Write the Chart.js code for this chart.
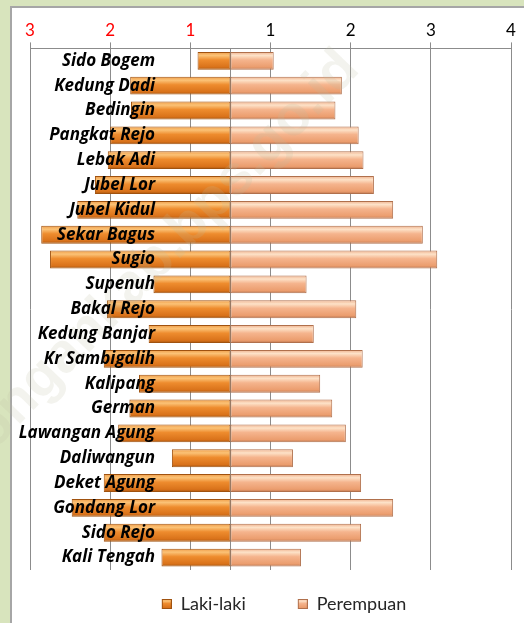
<!DOCTYPE html>
<html>
<head>
<meta charset="utf-8">
<script src="https://cdn.jsdelivr.net/npm/chart.js@4.4.1/dist/chart.umd.min.js"></script>
<style>
  html, body { margin: 0; padding: 0; }
  body { width: 524px; height: 623px; background: #d8e4bd; overflow: hidden; position: relative; }
  #panel { position: absolute; left: 10px; top: 6px; width: 540px; height: 640px; background: #fff; border: 2px solid #a6a6a6; }
  #wrap { position: absolute; left: 0; top: 0; width: 524px; height: 623px; }
</style>
</head>
<body>
<div id="panel"></div>
<div id="wrap"><canvas id="myChart"></canvas></div>
<script>
const desa = ["Sido Bogem", "Kedung Dadi", "Bedingin", "Pangkat Rejo", "Lebak Adi", "Jubel Lor",
    "Jubel Kidul", "Sekar Bagus", "Sugio", "Supenuh", "Bakal Rejo", "Kedung Banjar", "Kr Sambigalih",
    "Kalipang", "German", "Lawangan Agung", "Daliwangun", "Deket Agung", "Gondang Lor", "Sido Rejo",
    "Kali Tengah"];
const lakiLaki = [0.41, 1.25, 1.24, 1.50, 1.53, 1.69, 1.91, 2.36, 2.25, 0.96, 1.54,
    1.02, 1.58, 1.14, 1.26, 1.40, 0.73, 1.58, 1.98, 1.58, 0.86];
const perempuan = [0.54, 1.39, 1.31, 1.60, 1.66, 1.79, 2.03, 2.40, 2.58, 0.95, 1.57,
    1.04, 1.65, 1.12, 1.27, 1.44, 0.78, 1.63, 2.03, 1.63, 0.88];
const seriesNames = ["Laki-laki", "Perempuan"];
const axisMin = -2.5;
const axisMax = 3.5;

const BAR_PCT = 0.72;
const lakiStops = [[0, "#ef9c48"], [0.2, "#fbc276"], [0.45, "#ee8c2e"], [0.85, "#d9721a"], [1, "#a8560f"]];
const perempuanStops = [[0, "#efb08c"], [0.2, "#fde2c8"], [0.45, "#f5b48d"], [0.85, "#eb9d6e"], [1, "#bb7650"]];

// vertical gradient per bar, so each bar gets the 3D bevel look
function barFill(stops) {
    return (ctx) => {
        const chart = ctx.chart;
        const yScale = chart.scales.y;
        if (!chart.chartArea || !yScale || ctx.dataIndex === undefined) return stops[2][1];
        const center = yScale.getPixelForValue(ctx.dataIndex);
        const h = (yScale.height / desa.length) * BAR_PCT;
        const g = chart.ctx.createLinearGradient(0, center - h / 2, 0, center + h / 2);
        stops.forEach(([o, c]) => g.addColorStop(o, c));
        return g;
    };
}

// legend markers as small images (blank space on the left gives the item gap)
const MARK_W = 37;
function legendMark(stops, edge) {
    const c = document.createElement("canvas");
    c.width = MARK_W;
    c.height = 10;
    const x = c.getContext("2d");
    const g = x.createLinearGradient(0, 0, 0, 10);
    stops.forEach(([o, col]) => g.addColorStop(o, col));
    x.fillStyle = g;
    x.fillRect(MARK_W - 10, 0, 10, 10);
    x.strokeStyle = edge;
    x.strokeRect(MARK_W - 9.5, 0.5, 9, 9);
    return c;
}
const marks = [legendMark(lakiStops, "#a0520f"), legendMark(perempuanStops, "#b0704c")];

const watermark = {
    id: "watermark",
    afterDatasetsDraw(chart) {
        const ctx = chart.ctx;
        ctx.save();
        ctx.translate(350, 60);
        ctx.rotate(-46 * Math.PI / 180);
        ctx.font = "bold 56px 'Liberation Sans'";
        ctx.textAlign = "right";
        ctx.textBaseline = "middle";
        ctx.fillStyle = "rgba(190, 190, 160, 0.18)";
        ctx.fillText("lamongankab.bps.go.id", 0, 0);
        ctx.restore();
    }
};

const ctx = document.getElementById("myChart").getContext("2d");
new Chart(ctx, {
    type: "bar",
    data: {
        labels: desa,
        datasets: [
            {
                label: seriesNames[0],
                data: lakiLaki.map(v => -v),
                backgroundColor: barFill(lakiStops),
                borderColor: "#a0520f",
                borderWidth: 1,
                borderSkipped: false,
                barPercentage: BAR_PCT,
                categoryPercentage: 1,
            },
            {
                label: seriesNames[1],
                data: perempuan,
                backgroundColor: barFill(perempuanStops),
                borderColor: "#b0704c",
                borderWidth: 1,
                borderSkipped: false,
                barPercentage: BAR_PCT,
                categoryPercentage: 1,
            },
        ],
    },
    options: {
        indexAxis: "y",
        responsive: true,
        maintainAspectRatio: false,
        animation: false,
        layout: { padding: { top: 18, left: 30, right: 13, bottom: 0 } },
        plugins: {
            tooltip: { enabled: false },
            legend: {
                position: "bottom",
                labels: {
                    usePointStyle: true,
                    pointStyleWidth: MARK_W,
                    padding: 25,
                    color: "#262626",
                    font: { family: "Lato", size: 18 },
                    generateLabels(chart) {
                        const items = Chart.defaults.plugins.legend.labels.generateLabels(chart);
                        items.forEach((it, i) => { it.pointStyle = marks[i]; });
                        return items;
                    },
                },
            },
        },
        scales: {
            x: {
                position: "top",
                stacked: true,
                min: axisMin,
                max: axisMax,
                grid: { color: "#8c8c8c", tickLength: 6 },
                border: { color: "#8c8c8c" },
                ticks: {
                    stepSize: 1,
                    padding: 2,
                    font: { family: "Lato", size: 17 },
                    color: (c) => (c.tick && c.tick.value < 0 ? "#ff0000" : "#000000"),
                    callback: (v) => Math.round(Math.abs(v)),
                },
            },
            // only the vertical line at zero, between the two sides
            zero: {
                type: "linear",
                axis: "x",
                position: { y: 0 },
                min: axisMin,
                max: axisMax,
                afterBuildTicks: (s) => { s.ticks = [{ value: 0 }]; },
                grid: { color: "#8c8c8c", drawTicks: false },
                border: { display: false },
                ticks: { display: false },
            },
            y: {
                stacked: true,
                position: { x: -0.94 },
                grid: { display: false },
                border: { display: false },
                ticks: {
                    z: 1,
                    color: "#000000",
                    font: { family: "Open Sans", size: 17, weight: "bold", style: "italic" },
                },
            },
        },
    },
    plugins: [watermark],
});
</script>
</body>
</html>
